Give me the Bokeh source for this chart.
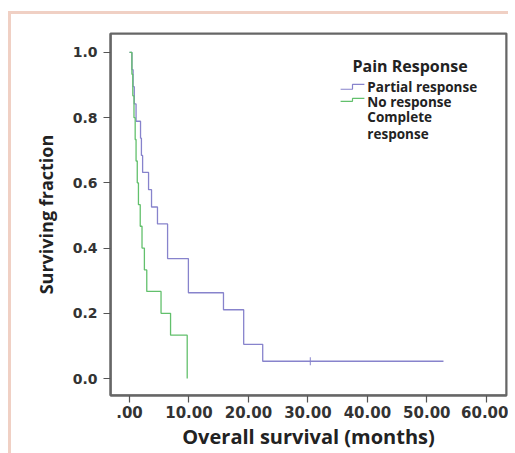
import numpy as np
from bokeh.plotting import figure
from bokeh.layouts import column
from bokeh.models import Range1d, Label, FixedTicker, Span
from bokeh.embed import file_html
from bokeh.resources import INLINE

# Kaplan-Meier data
pr_time = [0, 0.4, 0.6, 0.8, 1.1, 1.85, 2.0, 2.2, 3.2, 3.7, 4.7, 6.4, 9.9, 15.8, 19.2, 22.4, 52.8]
pr_surv = [1.0, 0.947, 0.895, 0.842, 0.789, 0.737, 0.684, 0.632, 0.579, 0.526, 0.474, 0.368, 0.263, 0.211, 0.105, 0.053, 0.053]
nr_time = [0, 0.4, 0.55, 0.75, 0.95, 1.1, 1.3, 1.5, 1.8, 2.1, 2.5, 2.9, 5.3, 6.9, 9.7]
nr_surv = [1.0, 0.933, 0.867, 0.8, 0.733, 0.667, 0.6, 0.533, 0.467, 0.4, 0.333, 0.267, 0.2, 0.133, 0.0]
pr_censor_time = [30.4]
pr_censor_surv = [0.053]

x_ticks = [0, 10, 20, 30, 40, 50, 60]
x_tick_labels = [".00", "10.00", "20.00", "30.00", "40.00", "50.00", "60.00"]
y_ticks = [0.0, 0.2, 0.4, 0.6, 0.8, 1.0]
y_tick_labels = ["0.0", "0.2", "0.4", "0.6", "0.8", "1.0"]

legend_title = "Pain Response"
legend_labels = ["Partial response", "No response", "Complete\nresponse"]

X0, X1, Y0, Y1 = -3.2, 63.4, -0.052, 1.058
PR_COLOR = "#8783cc"
NR_COLOR = "#62c06c"
FONT = "Open Sans"
TICK_FONT = "DejaVu Sans"
FRAME_COLOR = "#666666"

p = figure(width=497, height=439, output_backend="svg", toolbar_location=None,
           x_range=Range1d(X0, X1), y_range=Range1d(Y0, Y1),
           min_border_left=99, min_border_top=19, min_border_right=2, min_border_bottom=58)
p.frame_width = 396
p.frame_height = 362
p.outline_line_color = FRAME_COLOR
p.outline_line_width = 2
p.outline_line_alpha = 1.0
p.xgrid.visible = False
p.ygrid.visible = False

# frame box
for loc, dim in ((X0, "height"), (X1, "height")):
    p.add_layout(Span(location=loc, dimension=dim, line_color=FRAME_COLOR, line_width=2))
for loc in (Y0, Y1):
    p.add_layout(Span(location=loc, dimension="width", line_color=FRAME_COLOR, line_width=2))

p.step(pr_time, pr_surv, mode="after", line_color=PR_COLOR, line_width=1.3)
p.step(nr_time, nr_surv, mode="after", line_color=NR_COLOR, line_width=1.3)
p.dash(pr_censor_time, pr_censor_surv, angle=np.pi / 2, size=8, line_color=PR_COLOR, line_width=1)

for ax in (p.xaxis[0], p.yaxis[0]):
    ax.axis_line_color = FRAME_COLOR
    ax.axis_line_width = 2
    ax.major_tick_line_color = "#555555"
    ax.major_tick_line_width = 1.2
    ax.major_tick_out = 7
    ax.major_tick_in = 0
    ax.minor_tick_line_color = None
    ax.major_label_text_font = TICK_FONT
    ax.major_label_text_font_style = "bold"
    ax.major_label_text_color = "#333333"
    ax.axis_label_text_font = FONT
    ax.axis_label_text_font_style = "bold"
    ax.axis_label_text_color = "#222222"

p.xaxis.ticker = FixedTicker(ticks=x_ticks)
p.xaxis.major_label_overrides = {t: l for t, l in zip(x_ticks, x_tick_labels)}
p.xaxis.major_label_text_font_size = "15px"
p.xaxis.major_label_standoff = 3
p.xaxis.axis_label = "Overall survival (months)"
p.xaxis.axis_label_text_font_size = "20px"
p.xaxis.axis_label_standoff = 2

p.yaxis.ticker = FixedTicker(ticks=y_ticks)
p.yaxis.major_label_overrides = {t: l for t, l in zip(y_ticks, y_tick_labels)}
p.yaxis.major_label_text_font_size = "14px"
p.yaxis.major_label_standoff = 6
p.yaxis.axis_label = "Surviving fraction"
p.yaxis.axis_label_text_font_size = "18px"
p.yaxis.axis_label_standoff = 12

# legend
p.add_layout(Label(x=37.5, y=0.957, text=legend_title, text_font=FONT, text_font_style="bold",
                   text_font_size="16px", text_color="#222222", text_baseline="middle"))
label_y = [0.893, 0.847, 0.777]
for lab, ly in zip(legend_labels, label_y):
    p.add_layout(Label(x=40.0, y=ly, text=lab, text_font=FONT, text_font_style="bold",
                       text_font_size="13.5px", text_color="#222222", text_baseline="middle",
                       text_line_height=0.96))
p.line([35.5, 37.5, 37.5, 39.5], [0.887, 0.887, 0.902, 0.902], line_color=PR_COLOR, line_width=1.2)
p.line([35.5, 37.5, 37.5, 39.5], [0.850, 0.850, 0.859, 0.859], line_color=NR_COLOR, line_width=1.2)

layout = column(p, margin=(11, 0, 0, 8),
                styles={"border-left": "3px solid #f0d0c4", "border-top": "3px solid #f0d0c4"})

open("out.html", "w").write(file_html(layout, INLINE))
